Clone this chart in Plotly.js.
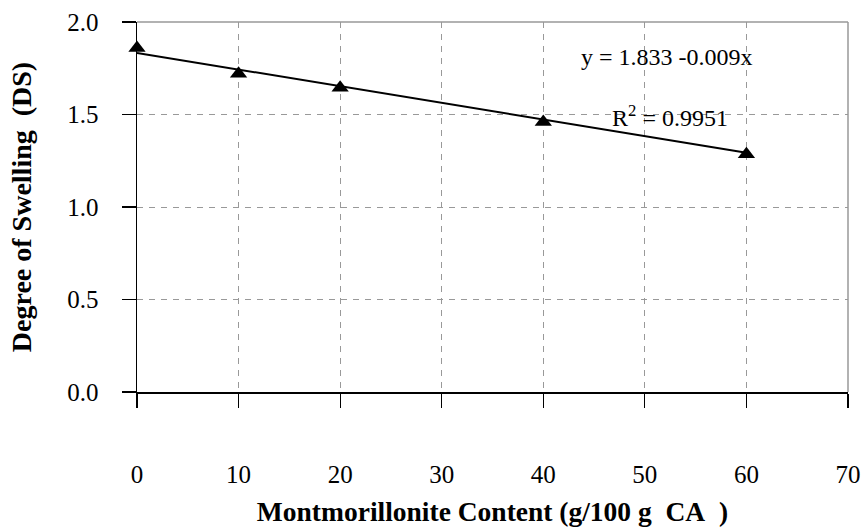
<!DOCTYPE html>
<html>
<head>
<meta charset="utf-8">
<script src="https://cdn.plot.ly/plotly-3.0.1.min.js"></script>
<style>
  html, body { margin: 0; padding: 0; background: #fff; }
  #chart { width: 861px; height: 527px; }
</style>
</head>
<body>
<div id="chart"></div>
<script>
// Montmorillonite content (g/100 g CA) and measured degree of swelling
const content = [0, 10, 20, 40, 60];
const swelling = [1.86, 1.72, 1.645, 1.46, 1.285];

// Linear fit y = a + b x
const fitIntercept = [1.833];
const fitSlope = [-0.009];
const fitRange = [0, 60];

const xTicks = [0, 10, 20, 30, 40, 50, 60, 70];
const yTicks = [0.0, 0.5, 1.0, 1.5, 2.0];
const yTickText = ['0.0', '0.5', '1.0', '1.5', '2.0'];

const fitY = fitRange.map(x => fitIntercept[0] + fitSlope[0] * x);

const serif = 'Liberation Serif';

const traces = [
  {
    x: fitRange, y: fitY, type: 'scatter', mode: 'lines',
    line: { color: '#000', width: 2 }, hoverinfo: 'skip', cliponaxis: false
  },
  {
    x: content, y: swelling, type: 'scatter', mode: 'markers', cliponaxis: false,
    marker: { symbol: 'triangle-up', size: 15, color: '#000' }
  }
];

const layout = {
  width: 861, height: 527,
  margin: { l: 137, r: 13, t: 22, b: 135 },
  paper_bgcolor: '#fff', plot_bgcolor: '#fff',
  showlegend: false,
  font: { family: serif, color: '#000', size: 24 },
  xaxis: {
    range: [0, 70], tickvals: xTicks, ticktext: xTicks.map(String),
    ticks: 'outside', ticklen: 14, tickwidth: 1.2, tickcolor: '#000',
    ticklabelstandoff: 45,
    showline: true, linecolor: '#000', linewidth: 1.5,
    showgrid: true, gridcolor: '#999', griddash: '6px,6px', gridwidth: 1,
    zeroline: false,
    tickfont: { family: serif, size: 25, color: '#000' },
    title: { text: 'Montmorillonite Content (g/100 g\u00a0\u00a0CA\u00a0\u00a0)', font: { family: serif, size: 27.5, color: '#000', weight: 'bold' }, standoff: 17 }
  },
  yaxis: {
    range: [0, 2], tickvals: yTicks, ticktext: yTickText,
    ticks: 'outside', ticklen: 14, tickwidth: 1.2, tickcolor: '#000',
    ticklabelstandoff: 18,
    showline: true, linecolor: '#000', linewidth: 1.5,
    showgrid: true, gridcolor: '#999', griddash: '6px,6px', gridwidth: 1,
    zeroline: false,
    tickfont: { family: serif, size: 25, color: '#000' },
    title: { text: 'Degree of Swelling\u00a0\u00a0(DS)', font: { family: serif, size: 28, color: '#000', weight: 'bold' }, standoff: 27 }
  },
  shapes: [
    { type: 'line', xref: 'paper', yref: 'paper', x0: 0, x1: 1, y0: 1, y1: 1, line: { color: '#999', width: 1.5 } },
    { type: 'line', xref: 'paper', yref: 'paper', x0: 1, x1: 1, y0: 0, y1: 1, line: { color: '#999', width: 1.5 } }
  ],
  annotations: [
    { x: 0.745, y: 0.905, xref: 'paper', yref: 'paper', xanchor: 'center', yanchor: 'middle',
      text: 'y = 1.833 -0.009x', showarrow: false,
      font: { family: serif, size: 24, color: '#000' } },
    { x: 0.749, y: 0.745, xref: 'paper', yref: 'paper', xanchor: 'center', yanchor: 'middle',
      text: 'R<sup>2</sup> = 0.9951', showarrow: false,
      font: { family: serif, size: 24, color: '#000' } }
  ]
};

Plotly.newPlot('chart', traces, layout, { staticPlot: true });
</script>
</body>
</html>
